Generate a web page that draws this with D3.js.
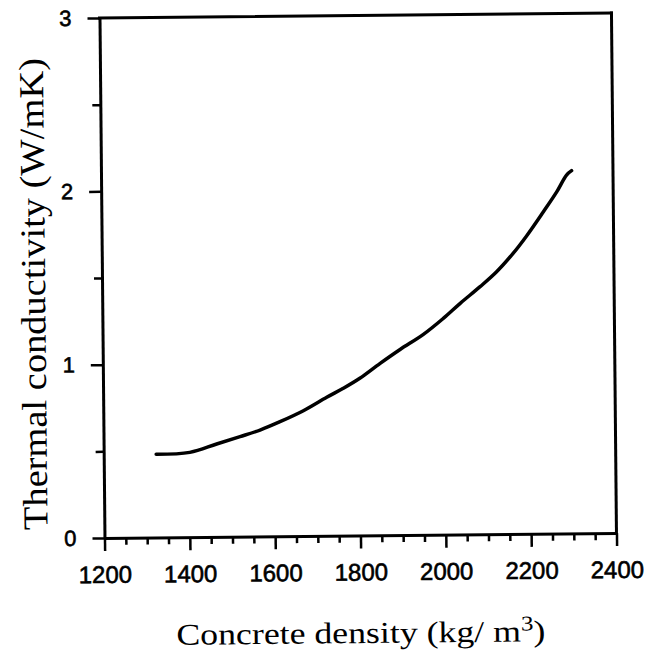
<!DOCTYPE html>
<meta charset="utf-8" />
<title>Thermal conductivity vs concrete density</title>
<style>
  body { margin: 0; background: #fff; }
  svg { display: block; }
  .title { font-family: "Liberation Serif", "DejaVu Serif", serif; fill: #000; }
</style>
<body>
<svg width="645" height="650"></svg>
<script src="https://d3js.org/d3.v7.min.js"></script>
<script>
  // values
  const density = [1323, 1402, 1465, 1520, 1567, 1614, 1669, 1724, 1763, 1802, 1850, 1897,
                   1952, 1999, 2039, 2086, 2125, 2164, 2196, 2236, 2268, 2291, 2303];
  const conductivity = [0.480, 0.489, 0.536, 0.577, 0.614, 0.661, 0.723, 0.799, 0.850, 0.907, 0.992, 1.071,
                        1.157, 1.248, 1.334, 1.429, 1.514, 1.619, 1.719, 1.858, 1.973, 2.068, 2.093];
  const xTickValues = [1200, 1400, 1600, 1800, 2000, 2200, 2400];
  const xMinorValues = d3.range(1250, 2400, 50).filter(v => v % 200 !== 0);
  const yTickValues = [0, 1, 2, 3];
  const yMinorValues = [0.5, 1.5, 2.5];

  const svg = d3.select("svg");

  // the scan is slightly rotated, so draw everything in a tilted group
  const g = svg.append("g").attr("transform", "rotate(-0.55, 360, 278)");

  const x = d3.scaleLinear().domain([1200, 2400]).range([102, 614]);
  const y = d3.scaleLinear().domain([0, 3]).range([535.5, 15.5]);

  const frame = g.append("g")
    .attr("stroke", "#000")
    .attr("stroke-width", 3)
    .attr("fill", "none")
    .attr("stroke-linecap", "square");

  // top and right border
  frame.append("line")
    .attr("x1", x(1200)).attr("y1", y(3))
    .attr("x2", x(2400)).attr("y2", y(3));
  frame.append("line")
    .attr("x1", x(2400)).attr("y1", y(3))
    .attr("x2", x(2400)).attr("y2", y(0));

  // bottom axis, ticks pointing down
  const xAxis = d3.axisBottom(x).tickValues(xTickValues).tickSize(13).tickSizeOuter(0)
    .tickFormat(d3.format("d"));
  const xAxisG = g.append("g").attr("transform", `translate(0,${y(0)})`).call(xAxis);
  g.append("g").attr("transform", `translate(0,${y(0)})`)
    .call(d3.axisBottom(x).tickValues(xMinorValues).tickSize(7).tickFormat("").tickSizeOuter(0))
    .call(s => s.select(".domain").remove());

  // left axis, ticks pointing left
  const yAxis = d3.axisLeft(y).tickValues(yTickValues).tickSize(12).tickPadding(16).tickSizeOuter(0)
    .tickFormat(d3.format("d"));
  const yAxisG = g.append("g").attr("transform", `translate(${x(1200)},0)`).call(yAxis);
  g.append("g").attr("transform", `translate(${x(1200)},0)`)
    .call(d3.axisLeft(y).tickValues(yMinorValues).tickSize(8).tickFormat("").tickSizeOuter(0))
    .call(s => s.select(".domain").remove());

  g.selectAll(".domain")
    .attr("stroke", "#000")
    .attr("stroke-width", 3);
  g.selectAll(".tick line")
    .attr("stroke", "#000")
    .attr("stroke-width", 2.5);

  g.selectAll(".tick text")
    .attr("font-family", "'Liberation Sans', Arial, sans-serif")
    .attr("fill", "#000")
    .attr("stroke", "#000")
    .attr("stroke-width", 0.6);
  xAxisG.selectAll(".tick text")
    .attr("font-size", 24)
    .attr("dy", null)
    .attr("y", 45);
  yAxisG.selectAll(".tick text")
    .attr("font-size", 22);

  // the curve
  const line = d3.line()
    .x((d, i) => x(density[i]))
    .y(d => y(d))
    .curve(d3.curveCatmullRom.alpha(0.5));

  g.append("path")
    .datum(conductivity)
    .attr("d", line)
    .attr("fill", "none")
    .attr("stroke", "#000")
    .attr("stroke-width", 3.5)
    .attr("stroke-linecap", "round")
    .attr("stroke-linejoin", "round");

  // axis titles
  const xTitle = g.append("text")
    .attr("class", "title")
    .attr("x", 173)
    .attr("y", 643)
    .attr("font-size", 30)
    .attr("textLength", 369)
    .attr("lengthAdjust", "spacingAndGlyphs");
  xTitle.append("tspan").text("Concrete density (kg/ m");
  xTitle.append("tspan").attr("dy", -11).attr("font-size", 21).text("3");
  xTitle.append("tspan").attr("dy", 11).text(")");

  g.append("text")
    .attr("class", "title")
    .attr("transform", "translate(45,291) rotate(-90)")
    .attr("text-anchor", "middle")
    .attr("font-size", 35)
    .attr("textLength", 472)
    .attr("lengthAdjust", "spacingAndGlyphs")
    .text("Thermal conductivity (W/mK)");
</script>
</body>
